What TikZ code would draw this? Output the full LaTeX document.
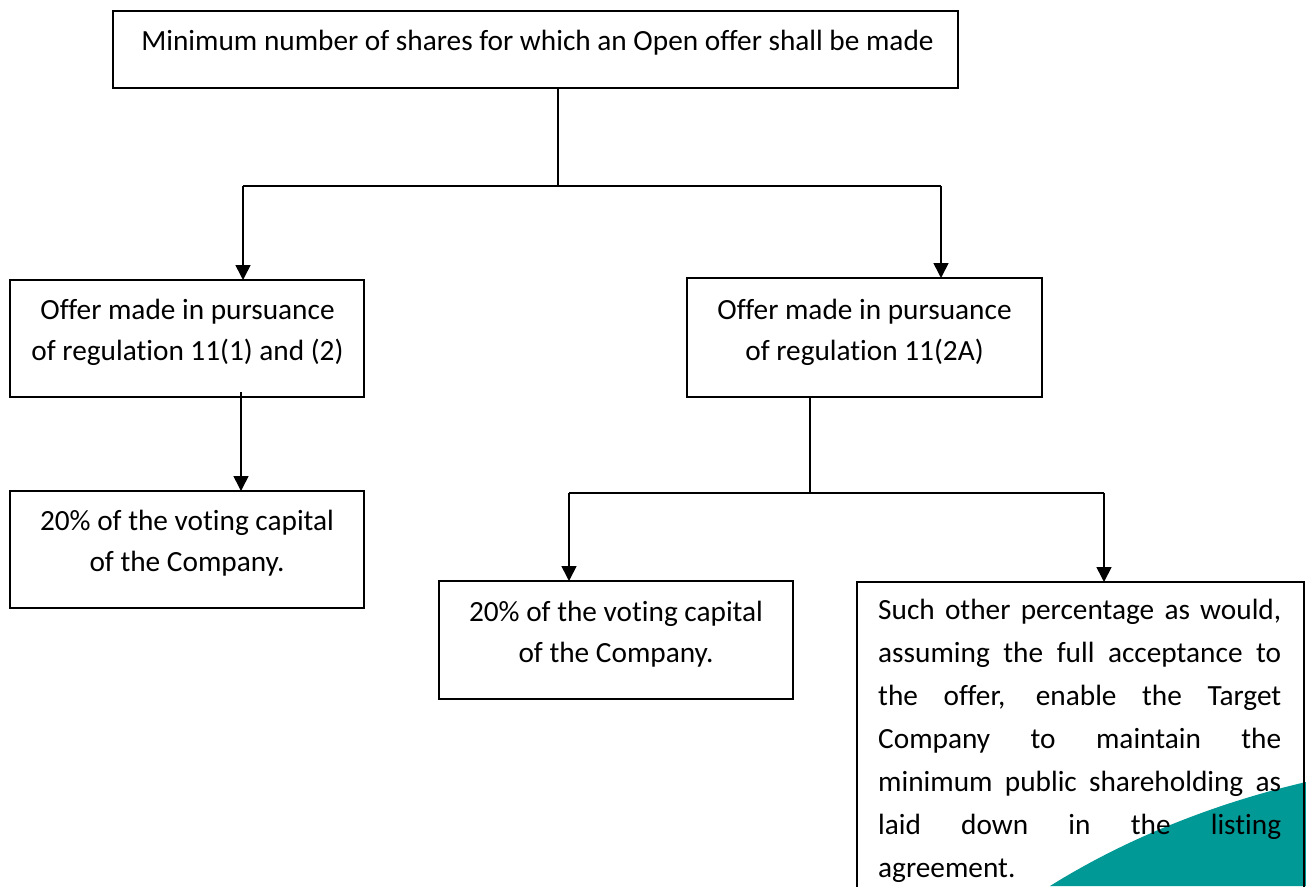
\documentclass[tikz,border=0pt]{standalone}
\usepackage{fontspec}
\setmainfont{Carlito}[Ligatures=NoCommon]
\usetikzlibrary{arrows.meta,calc}
\definecolor{tealbg}{RGB}{0,153,150}
\begin{document}
\begin{tikzpicture}[x=1pt,y=-1pt,
  box/.style={draw,line width=1.6pt,inner sep=0pt,outer sep=0pt,anchor=north west,minimum width=354,minimum height=117},
  txt/.style={anchor=base,inner sep=0pt,font=\fontsize{29.3}{41.5}\selectfont},
  jtxt/.style={anchor=base west,inner sep=0pt,font=\fontsize{29.3}{43}\selectfont},
  conn/.style={line width=1.6pt},
  arr/.style={line width=1.6pt,-{Triangle[width=15pt,length=15pt]}}]
\useasboundingbox (0,0) rectangle (1306,886);
% teal decoration
\fill[tealbg] (1050,886) .. controls (1130,836) and (1220,802) .. (1306,782) -- (1306,886) -- cycle;
% boxes
\node[box,minimum width=845,minimum height=77] (top) at (113,11) {};
\node[box] (L1) at (10,280) {};
\node[box] (L2) at (10,491) {};
\node[box,minimum width=355,minimum height=119] (R1) at (687,278) {};
\node[box,minimum height=118] (M2) at (439,581) {};
\node[box,minimum width=447,minimum height=312] (R2) at (857,582) {};
% texts
\node[txt] (ttop) at (537.5,50) {Minimum number of shares for which an Open offer shall be made};
\node[txt] (tL1) at (187.5,319) {\begin{tabular}[t]{@{}c@{}}Offer made in pursuance\\ of regulation 11(1) and (2)\end{tabular}};
\node[txt] (tL2) at (187,530) {\begin{tabular}[t]{@{}c@{}}20\% of the voting capital\\ of the Company.\end{tabular}};
\node[txt] (tR1) at (864.5,319) {\begin{tabular}[t]{@{}c@{}}Offer made in pursuance\\ of regulation 11(2A)\end{tabular}};
\node[txt] (tM2) at (616,621) {\begin{tabular}[t]{@{}c@{}}20\% of the voting capital\\ of the Company.\end{tabular}};
\node[jtxt] (tR2) at (878,619) {\begin{tabular}[t]{@{}l@{}}%
\makebox[403pt][s]{Such other percentage as would,}\\
\makebox[403pt][s]{assuming the full acceptance to}\\
\makebox[403pt][s]{the offer, enable the Target}\\
\makebox[403pt][s]{Company to maintain the}\\
\makebox[403pt][s]{minimum public shareholding as}\\
\makebox[403pt][s]{laid down in the listing}\\
agreement.\end{tabular}};
% connectors
\coordinate (j1) at (558,186);
\coordinate (j2) at (810,493);
\draw[conn] (top.south -| j1) -- (j1);
\draw[conn] ($(L1.north west)+(233,-94)$) -- ($(R1.north west)+(254,-92)$);
\draw[arr] ($(L1.north west)+(233,-94)$) -- ($(L1.north west)+(233,0)$);
\draw[arr] ($(R1.north west)+(254,-92)$) -- ($(R1.north west)+(254,0)$);
\draw[arr] ($(L1.south west)+(231,-5)$) -- ($(L2.north west)+(231,0)$);
\draw[conn] (R1.south -| j2) -- (j2);
\draw[conn] ($(M2.north west)+(130,-88)$) -- ($(R2.north west)+(247,-89)$);
\draw[arr] ($(M2.north west)+(130,-88)$) -- ($(M2.north west)+(130,0)$);
\draw[arr] ($(R2.north west)+(247,-89)$) -- ($(R2.north west)+(247,0)$);
\end{tikzpicture}
\end{document}
